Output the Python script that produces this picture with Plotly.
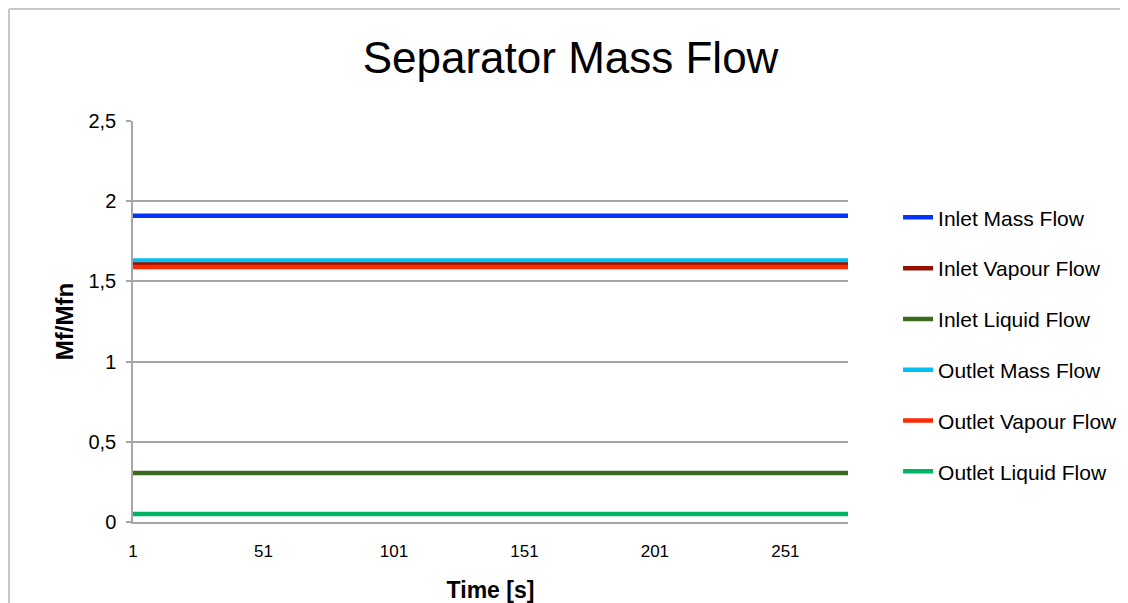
import plotly.graph_objects as go

time_s = [1, 51, 101, 151, 201, 251, 275]
inlet_mass = [1.91, 1.91, 1.91, 1.91, 1.91, 1.91, 1.91]
inlet_vapour = [1.605, 1.605, 1.605, 1.605, 1.605, 1.605, 1.605]
inlet_liquid = [0.305, 0.305, 0.305, 0.305, 0.305, 0.305, 0.305]
outlet_mass = [1.63, 1.63, 1.63, 1.63, 1.63, 1.63, 1.63]
outlet_vapour = [1.59, 1.59, 1.59, 1.59, 1.59, 1.59, 1.59]
outlet_liquid = [0.05, 0.05, 0.05, 0.05, 0.05, 0.05, 0.05]

series_names = ["Inlet Mass Flow", "Inlet Vapour Flow", "Inlet Liquid Flow",
                "Outlet Mass Flow", "Outlet Vapour Flow", "Outlet Liquid Flow"]
series_vals = [inlet_mass, inlet_vapour, inlet_liquid, outlet_mass, outlet_vapour, outlet_liquid]
colors = ["#0433FF", "#941100", "#3A6A1E", "#00BFF3", "#FF2A00", "#00B464"]

x_ticks = [1, 51, 101, 151, 201, 251]
y_ticks = [0, 0.5, 1, 1.5, 2, 2.5]

fig = go.Figure()
order = [0, 3, 1, 4, 2, 5]
for i in order:
    fig.add_trace(go.Scatter(
        x=time_s, y=series_vals[i], name=series_names[i], mode="lines",
        line=dict(color=colors[i], width=4.5),
        legendgroup=series_names[i], legendrank=i + 1,
    ))

fig.update_layout(
    width=1128, height=603,
    margin=dict(l=125, r=288, t=113, b=89),
    paper_bgcolor="white", plot_bgcolor="white",
    separators=", ",
    title=dict(text="Separator Mass Flow", x=0.4987, xanchor="center", y=0.917, yanchor="middle",
               font=dict(family="Liberation Sans, Arial", size=44, color="black")),
    showlegend=True,
    legend=dict(x=1.070, xanchor="left", y=0.81, yanchor="top",
                font=dict(family="Liberation Sans, Arial", size=21, color="black"),
                tracegroupgap=20.5, bgcolor="rgba(0,0,0,0)"),
    xaxis=dict(range=[1, 275], tickvals=x_ticks, ticktext=[str(v) for v in x_ticks],
               showgrid=False, zeroline=False, showline=True, linecolor="#A6A6A6", linewidth=1.5,
               ticks="", tickfont=dict(family="Liberation Sans, Arial", size=17, color="black"),
               ticklabelstandoff=13,
               title=dict(text="<b>Time [s]</b>", standoff=22,
                          font=dict(family="Liberation Sans, Arial", size=23, color="black"))),
    yaxis=dict(range=[0, 2.5], tickvals=y_ticks, showgrid=True, gridcolor="#A6A6A6", gridwidth=1.5,
               zeroline=False, showline=True, linecolor="#A6A6A6", linewidth=1.5,
               ticks="outside", ticklen=5, tickcolor="#A6A6A6", tickwidth=1.5,
               ticklabelstandoff=6,
               tickfont=dict(family="Liberation Sans, Arial", size=20, color="black"),
               title=dict(text="<b>Mf/Mfn</b>", standoff=8,
                          font=dict(family="Liberation Sans, Arial", size=24, color="black"))),
)

# outer chart border (Excel-style frame)
fig.add_shape(type="line", xref="paper", yref="paper", x0=-0.1734, x1=-0.1734, y0=1.279, y1=-0.3,
              line=dict(color="#C8C8C8", width=2))
fig.add_shape(type="line", xref="paper", yref="paper", x0=-0.1734, x1=1.45, y0=1.279, y1=1.279,
              line=dict(color="#C8C8C8", width=2))

fig.write_html("out.html")
